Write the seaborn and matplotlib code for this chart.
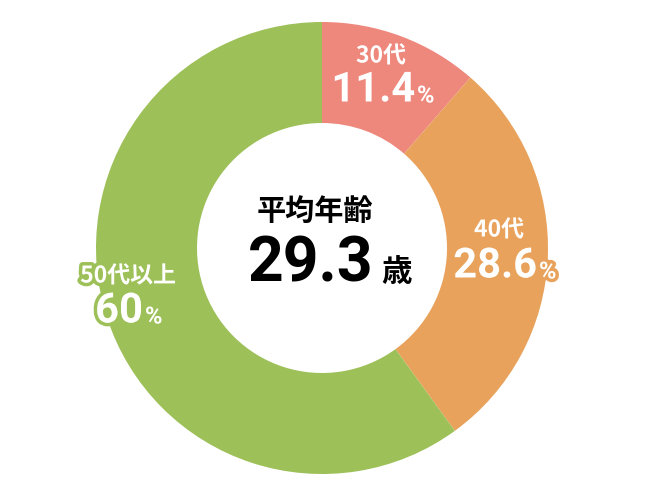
"""
Donut chart of age groups with the average age in the middle.
"""

import matplotlib
matplotlib.use("Agg")
import matplotlib.pyplot as plt
import matplotlib.patheffects as pe
import seaborn as sns

# -------------------------------------------------- DATA -------------------------------------------------- #

groups = ["30代", "40代", "50代以上"]
shares = [11.4, 28.6, 60.0]
share_labels = ["11.4", "28.6", "60"]
colors = ["#EE877C", "#E8A25B", "#9DC058"]

center_title = "平均年齢"
center_value = "29.3"
center_unit = "歳"

# -------------------------------------------------- PLOT -------------------------------------------------- #

sns.set_theme(style="white")
plt.rcParams["font.family"] = ["Noto Sans CJK JP", "DejaVu Sans"]
num_font = ["Roboto", "DejaVu Sans"]

fig = plt.figure(figsize=(6.5, 5), dpi=100)
ax = fig.add_axes([0, 0, 1, 1])

cx, cy, r_out, r_in = 322, 252, 226, 125
ax.pie(shares, colors=colors, startangle=90, counterclock=False,
       center=(cx, cy), radius=r_out, frame=True,
       wedgeprops=dict(width=r_out - r_in, linewidth=0))
ax.set_xlim(0, 650)
ax.set_ylim(0, 500)
ax.set_aspect("equal")
ax.axis("off")

# label positions (pixel coords, y from top)
label_pos = [(381, 56), (499, 230), (128, 276)]
value_pos = [(415, 90), (537, 266), (143, 311)]

for i, grp in enumerate(groups):
    stroke = [pe.withStroke(linewidth=5, foreground=colors[i])]
    lx, ly = label_pos[i]
    ax.text(lx, 500 - ly, grp, ha="center", va="center", color="white",
            fontsize=16.5, fontweight="bold", path_effects=stroke)
    vx, vy = value_pos[i]
    ax.text(vx, 500 - vy, share_labels[i], ha="right", va="center", color="white",
            fontsize=30, fontweight="bold", family=num_font,
            path_effects=stroke)
    ax.text(vx + 2, 500 - vy - 6, "%", ha="left", va="center", color="white",
            fontsize=17, fontweight="bold", family=num_font,
            path_effects=stroke)

ax.text(315, 500 - 211, center_title, ha="center", va="center", color="black",
        fontsize=21, fontweight="bold")
ax.text(373, 500 - 265, center_value, ha="right", va="center", color="black",
        fontsize=45, fontweight="bold", family=num_font)
ax.text(381, 500 - 272, center_unit, ha="left", va="center", color="black",
        fontsize=22, fontweight="bold")

fig.savefig("out.png", dpi=100)
